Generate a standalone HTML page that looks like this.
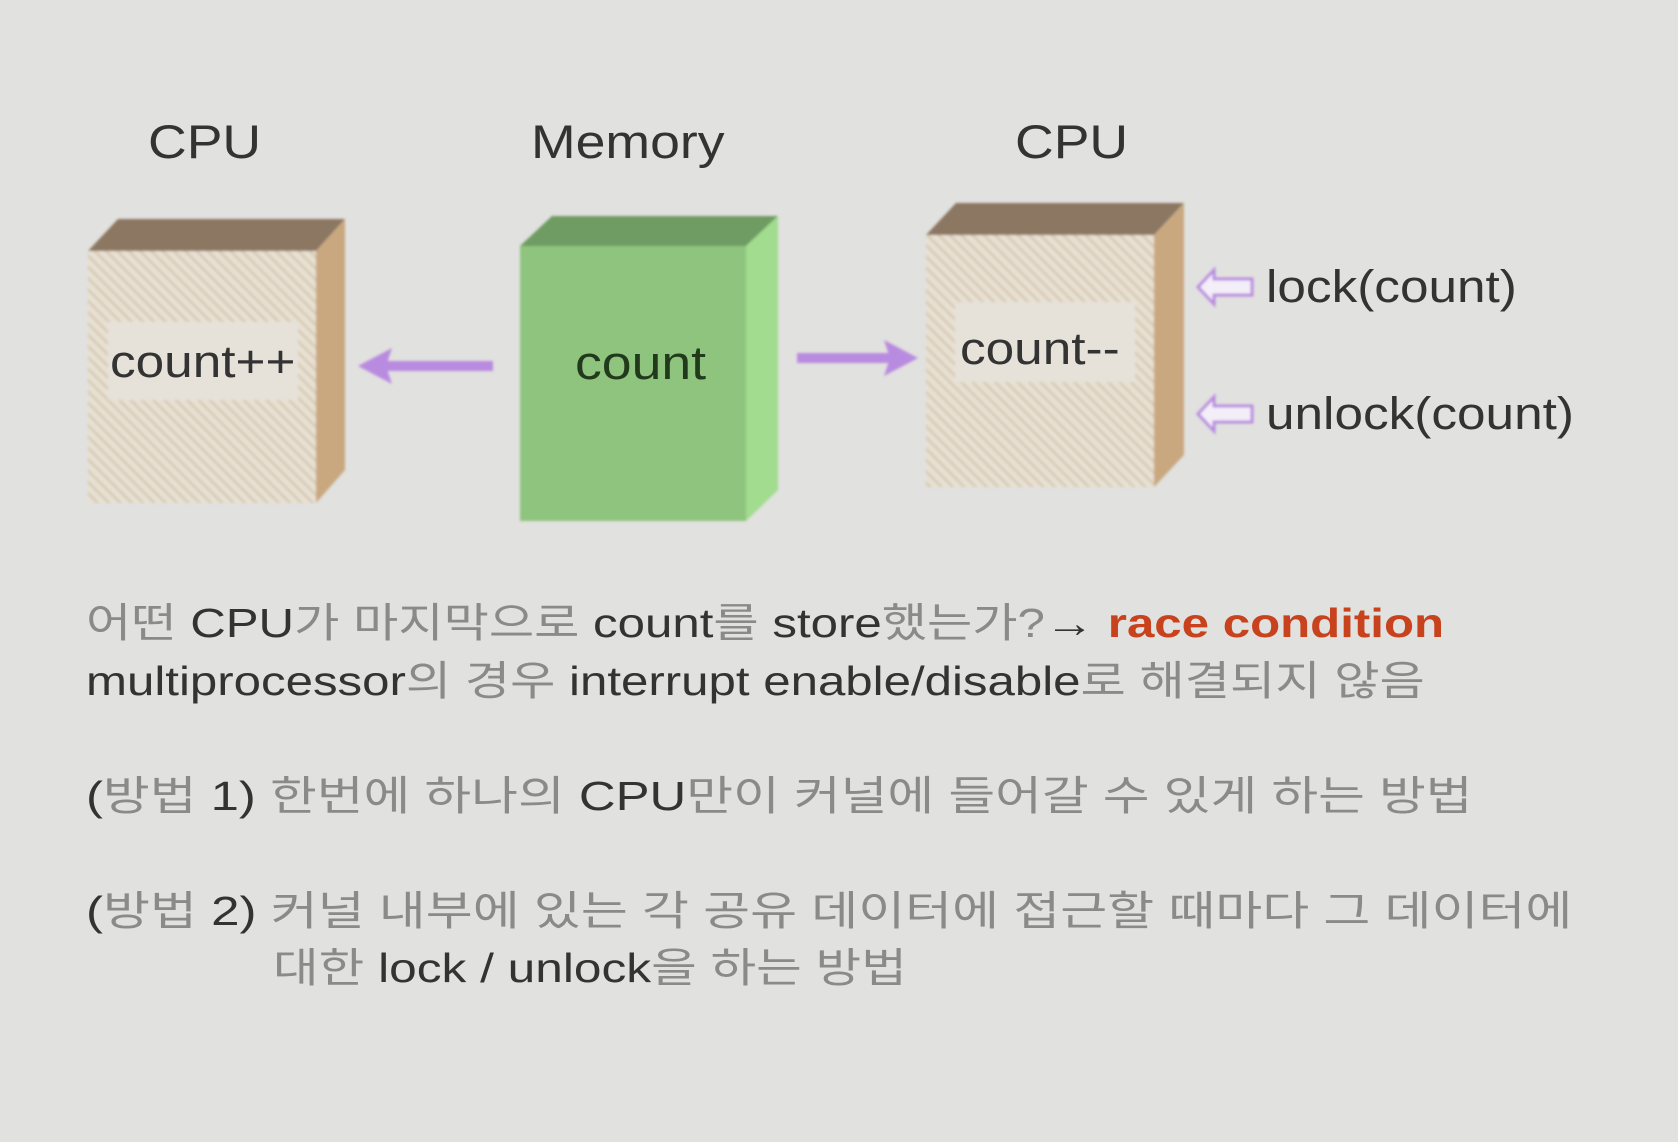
<!DOCTYPE html>
<html><head><meta charset="utf-8"><style>
body{margin:0;width:1678px;height:1142px;background:#e1e1df;overflow:hidden;font-family:"Liberation Sans","Noto Sans CJK KR",sans-serif}
.t{position:absolute;white-space:nowrap;font-size:41px;color:#333;line-height:1;transform-origin:left top}
.k{color:#8a8a8a}
.l{transform:scaleX(1.14)}
</style></head><body>
<svg width="1678" height="1142" style="position:absolute;left:0;top:0">
<defs>
<pattern id="h" width="8" height="8" patternUnits="userSpaceOnUse" patternTransform="rotate(-45)">
<rect width="8" height="8" fill="#e8e1d4"/><rect width="3" height="8" fill="#d8ccb6"/></pattern>
<filter id="b"><feGaussianBlur stdDeviation="1.2"/></filter>
</defs>
<g filter="url(#b)">
<polygon points="88,251 118,219 345,219 316,251" fill="#8b7762"/>
<polygon points="316,251 345,219 345,470 316,503" fill="#c9a880"/>
<rect x="88" y="251" width="228" height="252" fill="url(#h)"/>
<rect x="108" y="322" width="190" height="78" fill="#e6e2da"/>
<polygon points="520,246 552,216 778,216 746,246" fill="#6e9c62"/>
<polygon points="746,246 778,216 778,490 746,521" fill="#a2dc8e"/>
<rect x="520" y="246" width="226" height="275" fill="#8fc47f"/>
<polygon points="926,235 956,203 1184,203 1154,235" fill="#8b7762"/>
<polygon points="1154,235 1184,203 1184,455 1154,487" fill="#c9a880"/>
<rect x="926" y="235" width="228" height="252" fill="url(#h)"/>
<rect x="955" y="302" width="180" height="80" fill="#e6e2da"/>
<rect x="385" y="361" width="108" height="10" fill="#b98be0"/>
<polygon points="358,366 392,348 386,366 392,384" fill="#b98be0"/>
<rect x="797" y="353" width="95" height="10" fill="#b98be0"/>
<polygon points="918,358 884,340 890,358 884,376" fill="#b98be0"/>
<g fill="#f3eef7" stroke="#b98be0" stroke-width="3">
<polygon points="1198,287 1214,270 1214,279 1252,279 1252,295 1214,295 1214,304"/>
<polygon points="1198,414 1214,397 1214,406 1252,406 1252,422 1214,422 1214,431"/>
</g>
</g>
</svg>
<div class="t l" style="left:148px;top:118px;font-size:47px">CPU</div>
<div class="t l" style="left:531px;top:118px;font-size:47px">Memory</div>
<div class="t l" style="left:1015px;top:118px;font-size:47px">CPU</div>
<div class="t l" style="left:110px;top:339px;font-size:45px">count++</div>
<div class="t l" style="left:575px;top:339px;font-size:47px;color:#223a1c">count</div>
<div class="t l" style="left:960px;top:326px;font-size:45px">count--</div>
<div class="t l" style="left:1266px;top:264px;font-size:45px">lock(count)</div>
<div class="t l" style="left:1266px;top:391px;font-size:45px">unlock(count)</div>
<div class="t" style="left:86px;top:603px;transform:scaleX(1.2)"><span class="k">어떤 </span>CPU<span class="k">가 마지막으로 </span>count<span class="k">를 </span>store<span class="k">했는가?</span><b>→</b> <b style="color:#c8421e">race condition</b></div>
<div class="t" style="left:86px;top:661px;transform:scaleX(1.2)">multiprocessor<span class="k">의 경우 </span>interrupt enable/disable<span class="k">로 해결되지 않음</span></div>
<div class="t" style="left:86px;top:776px;transform:scaleX(1.24)">(<span class="k">방법 </span>1) <span class="k">한번에 하나의 </span>CPU<span class="k">만이 커널에 들어갈 수 있게 하는 방법</span></div>
<div class="t" style="left:86px;top:891px;transform:scaleX(1.245)">(<span class="k">방법 </span>2) <span class="k">커널 내부에 있는 각 공유 데이터에 접근할 때마다 그 데이터에</span></div>
<div class="t" style="left:273px;top:948px;transform:scaleX(1.21)"><span class="k">대한 </span>lock / unlock<span class="k">을 하는 방법</span></div>
</body></html>
